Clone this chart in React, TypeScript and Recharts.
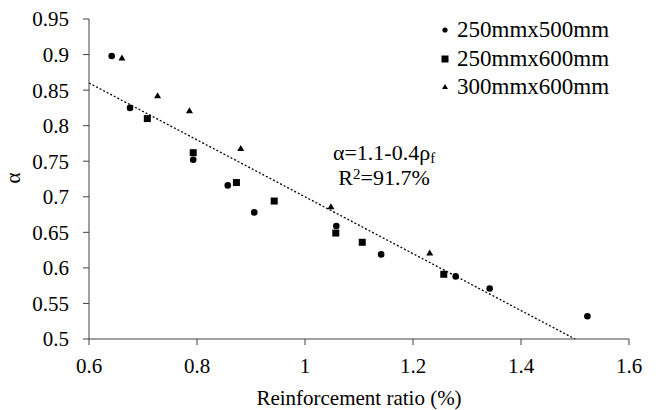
import React from "react";
import {
	ScatterChart,
	Scatter,
	XAxis,
	YAxis,
	ReferenceLine,
	Label,
} from "recharts";

const FONT = "'Liberation Serif', 'Times New Roman', serif";

// 250mm x 500mm beams
const beams250x500 = [
	{ x: 0.642, y: 0.898 },
	{ x: 0.676, y: 0.825 },
	{ x: 0.793, y: 0.752 },
	{ x: 0.857, y: 0.716 },
	{ x: 0.906, y: 0.678 },
	{ x: 1.058, y: 0.659 },
	{ x: 1.141, y: 0.619 },
	{ x: 1.279, y: 0.588 },
	{ x: 1.342, y: 0.571 },
	{ x: 1.523, y: 0.532 },
];

// 250mm x 600mm beams
const beams250x600 = [
	{ x: 0.708, y: 0.81 },
	{ x: 0.793, y: 0.762 },
	{ x: 0.873, y: 0.72 },
	{ x: 0.943, y: 0.694 },
	{ x: 1.057, y: 0.649 },
	{ x: 1.106, y: 0.636 },
	{ x: 1.257, y: 0.591 },
];

// 300mm x 600mm beams
const beams300x600 = [
	{ x: 0.661, y: 0.895 },
	{ x: 0.727, y: 0.842 },
	{ x: 0.786, y: 0.821 },
	{ x: 0.881, y: 0.768 },
	{ x: 1.048, y: 0.686 },
	{ x: 1.231, y: 0.621 },
];

// alpha = 1.1 - 0.4 * rho, drawn from 0.6 to 1.5
const trendStart = { x: 0.6, y: 0.86 };
const trendEnd = { x: 1.5, y: 0.5 };

const xTicks = [0.6, 0.8, 1, 1.2, 1.4, 1.6];
const yTicks = [0.5, 0.55, 0.6, 0.65, 0.7, 0.75, 0.8, 0.85, 0.9, 0.95];

const seriesNames = ["250mmx500mm", "250mmx600mm", "300mmx600mm"];

const Dot = (props: any) => <circle cx={props.cx} cy={props.cy} r={3.3} fill="#000" />;
const Sq = (props: any) => (
	<rect x={props.cx - 3.5} y={props.cy - 3.5} width={7} height={7} fill="#000" />
);
const Tri = (props: any) => (
	<path
		d={`M${props.cx},${props.cy - 3.5} L${props.cx + 3.5},${props.cy + 2.5} L${props.cx - 3.5},${props.cy + 2.5} Z`}
		fill="#000"
	/>
);

const legendIcons = [
	<circle cx={6} cy={6} r={2.6} fill="#000" />,
	<rect x={2.5} y={2.5} width={7} height={7} fill="#000" />,
	<path d="M6,3 L9,8 L3,8 Z" fill="#000" />,
];

export default function App() {
	const tickStyle = { fontSize: 21, fill: "#000", fontFamily: FONT };
	return (
		<div
			style={{
				position: "absolute",
				left: 0,
				top: 0,
				width: 656,
				height: 410,
				background: "#fff",
				fontFamily: FONT,
			}}
		>
			<ScatterChart
				width={656}
				height={410}
				margin={{ top: 19, right: 27, bottom: 0, left: 0 }}
				style={{ fontFamily: FONT }}
			>
				<XAxis
					type="number"
					dataKey="x"
					domain={[0.6, 1.6]}
					ticks={xTicks}
					interval={0}
					height={71}
					tickSize={6}
					tickMargin={13}
					stroke="#404040"
					tick={tickStyle}
					allowDataOverflow
				>
					<Label
						value="Reinforcement ratio (%)"
						position="insideBottom"
						offset={5}
						style={{ fontSize: 21, fill: "#000", fontFamily: FONT }}
					/>
				</XAxis>
				<YAxis
					type="number"
					dataKey="y"
					domain={[0.5, 0.95]}
					ticks={yTicks}
					interval={0}
					width={89}
					tickSize={6}
					tickMargin={14}
					stroke="#404040"
					tick={tickStyle}
					allowDataOverflow
				/>
				<ReferenceLine
					segment={[trendStart, trendEnd]}
					stroke="#000"
					strokeWidth={1.3}
					strokeDasharray="2 2"
					ifOverflow="visible"
				/>
				<Scatter name={seriesNames[0]} data={beams250x500} shape={Dot} isAnimationActive={false} />
				<Scatter name={seriesNames[1]} data={beams250x600} shape={Sq} isAnimationActive={false} />
				<Scatter name={seriesNames[2]} data={beams300x600} shape={Tri} isAnimationActive={false} />
			</ScatterChart>
			<div
				style={{
					position: "absolute",
					left: 2,
					top: 166,
					width: 22,
					height: 24,
					fontSize: 21,
					lineHeight: "24px",
					textAlign: "center",
					transform: "rotate(-90deg)",
					color: "#000",
				}}
			>
				α
			</div>
			<div style={{ position: "absolute", left: 439, top: 16, fontSize: 23, color: "#000" }}>
				{seriesNames.map((name, i) => (
					<div key={name} style={{ display: "flex", alignItems: "center", height: 28.5 }}>
						<svg width={12} height={12} style={{ marginRight: 6 }}>
							{legendIcons[i]}
						</svg>
						{name}
					</div>
				))}
			</div>
			<div
				style={{
					position: "absolute",
					left: 300,
					top: 140,
					width: 168,
					textAlign: "center",
					fontSize: 22,
					lineHeight: "25px",
					color: "#000",
				}}
			>
				<div>
					α=1.1-0.4ρ<sub style={{ fontSize: 15, verticalAlign: "-3px", lineHeight: 0 }}>f</sub>
				</div>
				<div>
					R<sup style={{ fontSize: 15, verticalAlign: "6px", lineHeight: 0 }}>2</sup>=91.7%
				</div>
			</div>
		</div>
	);
}
